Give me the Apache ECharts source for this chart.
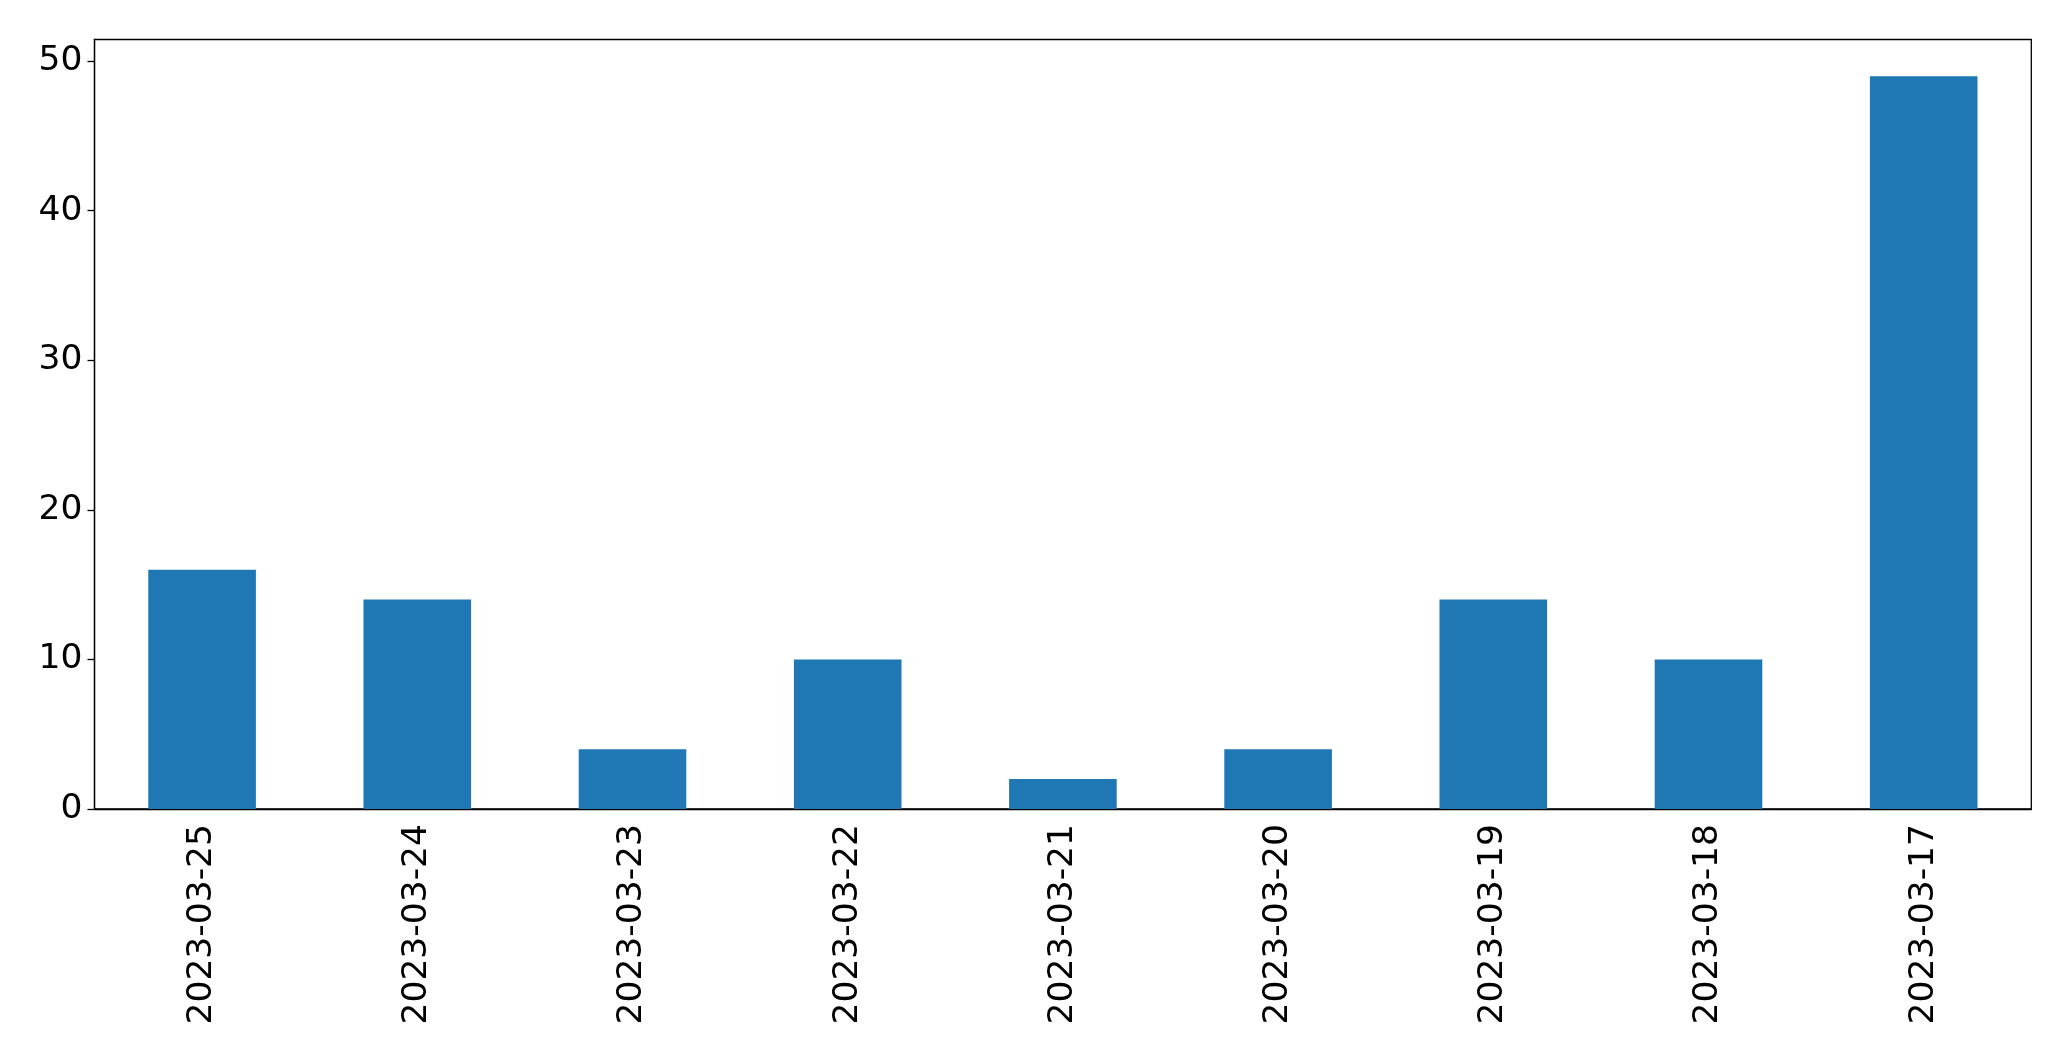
<!DOCTYPE html>
<html>
<head>
<meta charset="utf-8">
<script src="https://cdn.jsdelivr.net/npm/echarts@6/dist/echarts.min.js"></script>
<style>html,body{margin:0;padding:0;background:#fff;}#c{width:2071px;height:1061px;}</style>
</head>
<body>
<div id="c"></div>
<script>
const categories = ['2023-03-25','2023-03-24','2023-03-23','2023-03-22','2023-03-21','2023-03-20','2023-03-19','2023-03-18','2023-03-17'];
const values = [16, 14, 4, 10, 2, 4, 14, 10, 49];
const yTicks = [0, 10, 20, 30, 40, 50];

const chart = echarts.init(document.getElementById('c'), null, {renderer: 'canvas'});
const font = 'DejaVu Sans';
chart.setOption({
  animation: false,
  backgroundColor: '#fff',
  grid: {left: 94.5, right: 39.7, top: 39.5, bottom: 252, show: true, borderColor: '#000', borderWidth: 1.3, backgroundColor: 'transparent'},
  xAxis: {
    type: 'category',
    data: categories,
    axisLine: {lineStyle: {color: '#000', width: 1.3}},
    axisTick: {alignWithLabel: true, length: 7, lineStyle: {color: '#000', width: 1.3}},
    axisLabel: {rotate: 90, margin: 15, color: '#000', fontFamily: font, fontSize: 34.5}
  },
  yAxis: {
    type: 'value',
    min: 0,
    max: 51.45,
    interval: 10,
    splitLine: {show: false},
    axisLine: {show: true, lineStyle: {color: '#000', width: 1.3}},
    axisTick: {show: true, length: 7, lineStyle: {color: '#000', width: 1.3}},
    axisLabel: {
      margin: 12, color: '#000', fontFamily: font, fontSize: 34.5,
      showMaxLabel: false,
      formatter: function (v) { return yTicks.indexOf(v) >= 0 ? String(v) : ''; }
    }
  },
  series: [{
    type: 'bar',
    data: values,
    barWidth: '50%',
    itemStyle: {color: '#1f77b4'}
  }]
});
</script>
</body>
</html>
